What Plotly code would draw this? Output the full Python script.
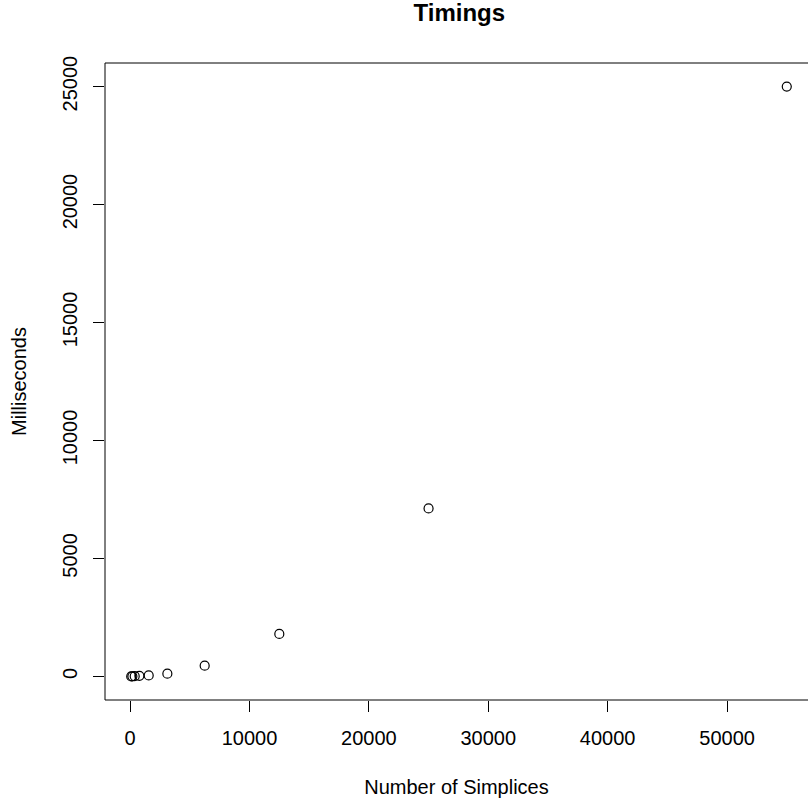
import plotly.graph_objects as go

simplices = [98, 195, 390, 781, 1562, 3125, 6250, 12500, 25000, 55000]
milliseconds = [1, 3, 8, 25, 40, 115, 455, 1800, 7120, 25000]
x_ticks = [0, 10000, 20000, 30000, 40000, 50000]
y_ticks = [0, 5000, 10000, 15000, 20000, 25000]

FONT = "Liberation Sans, Arial, Helvetica, sans-serif"

fig = go.Figure()
fig.add_trace(go.Scatter(
    x=simplices, y=milliseconds, mode="markers",
    marker=dict(symbol="circle-open", size=9, color="black", line=dict(width=1.2, color="black")),
    showlegend=False, hoverinfo="x+y",
))

fig.update_layout(
    width=808, height=801,
    margin=dict(l=105, r=0, t=63, b=101),
    paper_bgcolor="white", plot_bgcolor="white",
    font=dict(family=FONT, size=20, color="black"),
    title=dict(text="<b>Timings</b>", x=0.504, xref="paper", xanchor="center",
               y=1 - 13 / 801, yref="container", yanchor="middle",
               font=dict(family=FONT, size=24, color="black")),
)
fig.update_xaxes(
    range=[-2098, 56778], showgrid=False, zeroline=False, showline=False,
    tickmode="array", tickvals=x_ticks, ticktext=[str(v) for v in x_ticks],
    ticks="outside", ticklen=11, tickwidth=1, tickcolor="black",
    ticklabelstandoff=9,
    tickfont=dict(family=FONT, size=20, color="black"),
    title=dict(text="Number of Simplices", standoff=31,
               font=dict(family=FONT, size=20, color="black")),
)
fig.update_yaxes(
    range=[-1000, 26000], showgrid=False, zeroline=False, showline=False,
    tickmode="array", tickvals=y_ticks, ticktext=[str(v) for v in y_ticks],
    ticks="outside", ticklen=11, tickwidth=1, tickcolor="black", tickangle=-90,
    ticklabelstandoff=8,
    tickfont=dict(family=FONT, size=20, color="black"),
    title=dict(text="Milliseconds", standoff=27,
               font=dict(family=FONT, size=20, color="black")),
)
fig.add_shape(type="rect", xref="paper", yref="paper", x0=0, x1=1.03, y0=0, y1=1,
              line=dict(color="black", width=1), layer="above")

fig.write_html("out.html", config={"displayModeBar": False},
               post_script="document.body.style.margin='0';")
